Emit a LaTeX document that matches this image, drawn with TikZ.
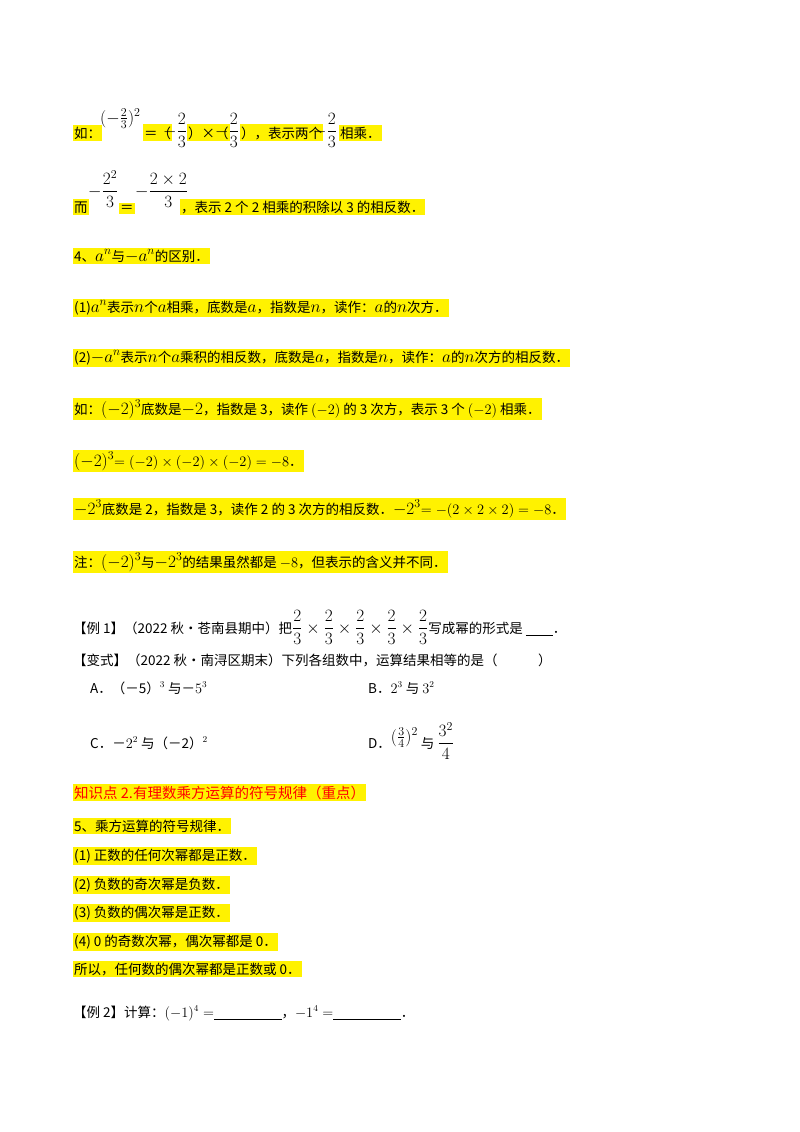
\documentclass[tikz,border=0pt]{standalone}
\usepackage{amsmath}
\usepackage{fontspec}
\setmainfont{Noto Sans CJK SC}
\newcommand{\mm}[1]{{\fontsize{17}{19}\selectfont$#1$}}
\begin{document}
\begin{tikzpicture}[x=1pt,y=-1pt,
  every node/.style={anchor=base west,inner sep=0pt,font=\fontsize{13.5}{15}\selectfont},
  hl/.style={fill=yellow,inner ysep=2pt,inner xsep=1pt}]
\useasboundingbox (0,0) rectangle (800,1132);
\fill[white] (0,0) rectangle (800,1132);
% line 1
\node[hl] (a1) at (73,138) {如：};
\node (a2) at (100,123) {\mm{(-\tfrac{2}{3})^2}};
\node[hl] (a3) at (143,138) {＝（};
\node (a4) at (163,136) {\mm{-\dfrac{2}{3}}};
\node[hl] (a5) at (187,138) {）×（};
\node (a6) at (215,136) {\mm{-\dfrac{2}{3}}};
\node[hl] (a7) at (240,138) {），表示两个};
\node (a8) at (313,136) {\mm{-\dfrac{2}{3}}};
\node[hl] (a9) at (339,138) {相乘．};
% line 2
\node[hl] (b1) at (73,212) {而};
\node (b2) at (88,196) {\mm{-\dfrac{2^2}{3}}};
\node[hl] (b3) at (119,212) {＝};
\node (b4) at (135,196) {\mm{-\dfrac{2\times2}{3}}};
\node[hl] (b5) at (180,212) {，表示 2 个 2 相乘的积除以 3 的相反数．};
% line 3-5
\node[hl] (c1) at (73,261) {4、\mm{a^n}与\mm{-a^n}的区别．};
\node[hl] (c2) at (73,312) {(1)\mm{a^n}表示\mm{n}个\mm{a}相乘，底数是\mm{a}，指数是\mm{n}，读作：\mm{a}的\mm{n}次方．};
\node[hl] (c3) at (73,362) {(2)\mm{-a^n}表示\mm{n}个\mm{a}乘积的相反数，底数是\mm{a}，指数是\mm{n}，读作：\mm{a}的\mm{n}次方的相反数．};
\node[hl] (c4) at (73,414) {如：\mm{(-2)^3}底数是\mm{-2}，指数是 3，读作 $(-2)$ 的 3 次方，表示 3 个 $(-2)$ 相乘．};
\node[hl] (c5) at (73,466) {\mm{(-2)^3}$=(-2)\times(-2)\times(-2)=-8$．};
\node[hl] (c6) at (73,514) {\mm{-2^3}底数是 2，指数是 3，读作 2 的 3 次方的相反数．\mm{-2^3}$=-(2\times2\times2)=-8$．};
\node[hl] (c7) at (73,567) {注：\mm{(-2)^3}与\mm{-2^3}的结果虽然都是 $-8$，但表示的含义并不同．};
% examples
\node (d1) at (73,633) {【例 1】（2022 秋•苍南县期中）把\mm{\dfrac23\times\dfrac23\times\dfrac23\times\dfrac23\times\dfrac23}写成幂的形式是 \underline{\hspace{2em}}．};
\node (d2) at (73,665) {【变式】（2022 秋•南浔区期末）下列各组数中，运算结果相等的是（\hspace{3em}）};
\node (d3) at (90,693) {A．（－5）$^3$ 与－$5^3$};
\node (d4) at (368,693) {B．$2^3$ 与 $3^2$};
\node (d5) at (90,748) {C．－$2^2$ 与（－2）$^2$};
\node (d6) at (368,748) {D．\raisebox{6pt}{\mm{(\tfrac34)^2}} 与 \mm{\dfrac{3^2}{4}}};
% section 2
\node[hl,text=red,font=\fontsize{14.5}{16}\selectfont] (e0) at (73,798) {知识点 2.有理数乘方运算的符号规律（重点）};
\node[hl] (e1) at (73,831) {5、乘方运算的符号规律．};
\node[hl] (e2) at (73,860) {(1) 正数的任何次幂都是正数．};
\node[hl] (e3) at (73,889) {(2) 负数的奇次幂是负数．};
\node[hl] (e4) at (73,917) {(3) 负数的偶次幂是正数．};
\node[hl] (e5) at (73,946) {(4) 0 的奇数次幂，偶次幂都是 0．};
\node[hl] (e6) at (73,974) {所以，任何数的偶次幂都是正数或 0．};
\node (e7) at (73,1017) {【例 2】计算：$(-1)^4=$\underline{\hspace{5em}}，$-1^4=$\underline{\hspace{5em}}．};
\end{tikzpicture}
\end{document}
